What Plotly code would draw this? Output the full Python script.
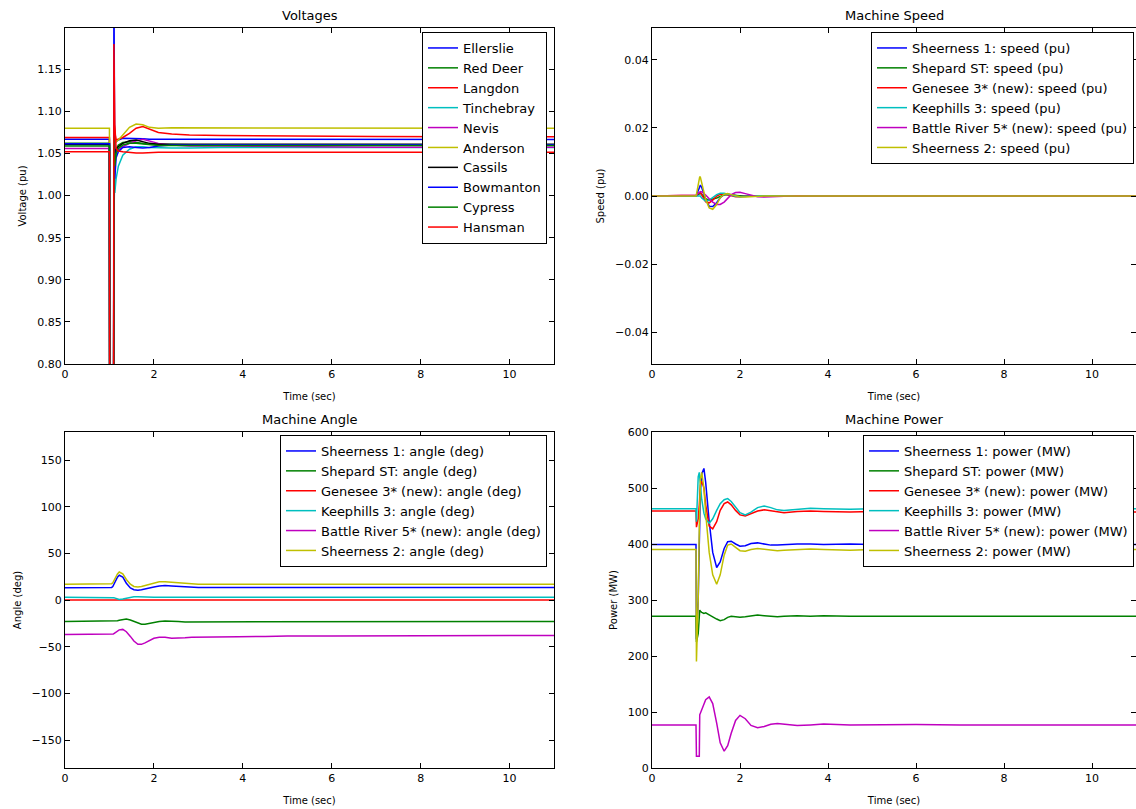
import plotly.graph_objects as go

# ---------------- data ----------------
# Voltage panel time base (sec)
t_v = [0.0, 1.0, 1.01, 1.09, 1.1, 1.12, 1.15, 1.2, 1.3, 1.45, 1.6, 1.75, 1.9, 2.1, 2.4, 2.8, 3.5, 5.0, 7.0, 9.0, 11.0]

v_ellerslie = [1.067, 1.067, 0.55, 0.55, 0.95, 1.062, 1.064, 1.066, 1.068, 1.068, 1.068, 1.0675, 1.067, 1.067, 1.0668, 1.0666, 1.0666, 1.0665, 1.0665, 1.0665, 1.0665]
v_red_deer = [1.062, 1.062, 0.5, 0.5, 1.07, 1.04, 1.055, 1.06, 1.063, 1.064, 1.063, 1.062, 1.061, 1.061, 1.0605, 1.0605, 1.0605, 1.0605, 1.0605, 1.0605, 1.0605]
v_langdon = [1.069, 1.069, 0.5, 0.5, 1.09, 1.075, 1.066, 1.067, 1.069, 1.074, 1.08, 1.082, 1.079, 1.075, 1.073, 1.072, 1.0712, 1.0705, 1.0702, 1.07, 1.07]
v_tinchebray = [1.0605, 1.0605, 0.45, 0.45, 1.05, 1.003, 1.02, 1.035, 1.048, 1.055, 1.058, 1.058, 1.057, 1.0565, 1.0565, 1.0565, 1.057, 1.057, 1.057, 1.057, 1.057]
v_nevis = [1.056, 1.056, 0.5, 0.5, 1.06, 1.05, 1.052, 1.054, 1.058, 1.062, 1.065, 1.067, 1.065, 1.062, 1.06, 1.059, 1.059, 1.058, 1.0575, 1.0575, 1.0575]
v_anderson = [1.08, 1.08, 0.45, 0.45, 1.07, 1.062, 1.064, 1.066, 1.072, 1.081, 1.085, 1.084, 1.081, 1.08, 1.0805, 1.0805, 1.0803, 1.0802, 1.08, 1.08, 1.08]
v_cassils = [1.061, 1.061, 0.55, 0.55, 1.07, 1.05, 1.055, 1.058, 1.062, 1.065, 1.066, 1.064, 1.062, 1.061, 1.061, 1.061, 1.061, 1.061, 1.061, 1.061, 1.061]
v_bowmanton = [1.0615, 1.0615, 0.5, 0.5, 1.26, 1.02, 1.045, 1.052, 1.057, 1.058, 1.057, 1.0565, 1.057, 1.059, 1.06, 1.0605, 1.0605, 1.0605, 1.0605, 1.0605, 1.0605]
v_cypress = [1.059, 1.059, 0.5, 0.5, 1.07, 1.035, 1.05, 1.056, 1.06, 1.062, 1.062, 1.061, 1.06, 1.0595, 1.0595, 1.0595, 1.0595, 1.0595, 1.0595, 1.0595, 1.0595]
v_hansman = [1.052, 1.052, 0.5, 0.5, 1.18, 1.085, 1.056, 1.053, 1.052, 1.051, 1.0505, 1.0505, 1.051, 1.0515, 1.0515, 1.0515, 1.0515, 1.0515, 1.0515, 1.0515, 1.0515]

bus_names = ["Ellerslie", "Red Deer", "Langdon", "Tinchebray", "Nevis",
             "Anderson", "Cassils", "Bowmanton", "Cypress", "Hansman"]
bus_values = [v_ellerslie, v_red_deer, v_langdon, v_tinchebray, v_nevis,
              v_anderson, v_cassils, v_bowmanton, v_cypress, v_hansman]

# Machine panels time base (sec)
t_m = [0.0, 1.0, 1.01, 1.05, 1.075, 1.085, 1.1, 1.13, 1.18, 1.22, 1.3, 1.38, 1.47, 1.55, 1.64, 1.72, 1.8, 1.9, 2.0, 2.12,
       2.25, 2.4, 2.55, 2.7, 2.85, 3.0, 3.3, 3.6, 3.9, 4.5, 5.0, 6.0, 7.0, 8.0, 9.0, 10.0, 11.0]

machine_names = ["Sheerness 1", "Shepard ST", "Genesee 3* (new)", "Keephills 3",
                 "Battle River 5* (new)", "Sheerness 2"]

speed_sheerness1 = [0, 0, 0.0003, 0.0015, 0.0025, 0.003, 0.0032, 0.0025, 0.0005, -0.001,
                    -0.003, -0.0031, -0.002, -0.0005, 0.0004, 0.0006, 0.0004, 0.0001, -0.0001, -0.0001,
                    0, 0, 0, 0, 0, 0, 0, 0, 0, 0, 0, 0, 0, 0, 0, 0, 0]
speed_shepard = [0, 0, 0.0001, 0.0004, 0.0006, 0.0007, 0.0008, 0.0005, -0.0003, -0.0008,
                 -0.0012, -0.001, -0.0006, -0.0001, 0.0004, 0.0004, 0.0003, 0.0001, 0, -0.0001,
                 0, 0, 0, 0, 0, 0, 0, 0, 0, 0, 0, 0, 0, 0, 0, 0, 0]
speed_genesee = [0, 0, 0.0002, 0.0008, 0.001, 0.0011, 0.001, 0.0003, -0.001, -0.0017,
                 -0.002, -0.0012, 0, 0.0005, 0.0006, 0.0003, 0, -0.0002, -0.0002, 0,
                 0.0001, 0, 0, 0, 0, 0, 0, 0, 0, 0, 0, 0, 0, 0, 0, 0, 0]
speed_keephills = [0, 0, 0, 0.0002, 0.0002, 0.0001, 0, -0.0006, -0.0012, -0.0015,
                   -0.0012, -0.0004, 0.0004, 0.0008, 0.0008, 0.0005, 0.0002, -0.0001, -0.0002, -0.0002,
                   0, 0.0001, 0.0001, 0, 0, 0, 0, 0, 0, 0, 0, 0, 0, 0, 0, 0, 0]
speed_battle = [0, 0, 0.0002, 0.0008, 0.0011, 0.0012, 0.0013, 0.0012, 0.0008, 0.0003,
                -0.0008, -0.0018, -0.0025, -0.0025, -0.0018, -0.0008, 0.0004, 0.001, 0.0011, 0.0007,
                0.0002, -0.0002, -0.0003, -0.0002, 0, 0.0001, 0.0001, 0, 0, 0, 0, 0, 0, 0, 0, 0, 0]
speed_sheerness2 = [0, 0, 0.0005, 0.003, 0.005, 0.0057, 0.0055, 0.004, 0.001, -0.001,
                    -0.0035, -0.0039, -0.0025, -0.0005, 0.0005, 0.0007, 0.0004, 0.0001, -0.0002, -0.0003,
                    -0.0002, 0, 0, 0, 0, 0, 0, 0, 0, 0, 0, 0, 0, 0, 0, 0, 0]

angle_sheerness1 = [13, 13, 13, 13.5, 14.5, 15.5, 17, 20, 24.5, 26.5,
                    24.5, 18, 13, 11, 10.5, 11, 12, 13, 14, 15,
                    15.5, 15, 14.5, 14, 13.5, 13.5, 13.5, 13.5, 13.5, 13.5,
                    13.5, 13.5, 13.5, 13.5, 13.5, 13.5, 13.5]
angle_shepard = [-23, -23, -23, -23, -23, -23, -23, -22.8, -22.3, -21.8,
                 -21, -20.5, -21.5, -23, -25, -26, -26, -25, -24, -23,
                 -22.5, -22.5, -23, -23.5, -23.5, -23.5, -23.3, -23.2, -23.2, -23.1,
                 -23, -23, -23, -23, -23, -23, -23]
angle_genesee = [0, 0, 0, 0, 0, 0, 0, 0, 0, 0,
                 0, 0, 0, 0, 0, 0, 0, 0, 0, 0,
                 0, 0, 0, 0, 0, 0, 0, 0, 0, 0,
                 0, 0, 0, 0, 0, 0, 0]
angle_keephills = [3, 3, 3, 3, 3, 2.8, 2.5, 2, 1, 0.5,
                   1, 2, 3, 3.5, 3.5, 3.3, 3, 3, 3, 3,
                   3, 3, 3, 3, 3, 3, 3, 3, 3, 3,
                   3, 3, 3, 3, 3, 3, 3]
angle_battle = [-37, -37, -37, -37, -36.8, -36.5, -36, -35, -33, -32,
                -31.5, -34, -39, -44, -47.5, -47.5, -46, -43.5, -41, -40,
                -40, -41, -41, -40.5, -40, -40, -40, -40, -39.5, -39,
                -38.5, -38.5, -38.5, -38, -38, -38, -38]
angle_sheerness2 = [17, 17, 17, 17.5, 18.5, 19.5, 21, 24, 28, 30,
                    28, 22, 17, 14.5, 14, 14.5, 15.5, 17, 18.5, 19.5,
                    19.5, 19, 18, 17.5, 17, 17, 17, 17, 17, 17.3,
                    17.5, 17.3, 17, 17, 17, 17, 17]

power_sheerness1 = [399, 399, 230, 300, 400, 460, 495, 525, 535, 510,
                    440, 385, 358, 368, 392, 404, 405, 400, 396, 397,
                    401, 402, 400, 398, 398, 399, 400, 400, 399, 400,
                    399, 399, 399, 399, 399, 399, 399]
power_shepard = [271, 271, 225, 240, 270, 282, 280, 278, 276, 277,
                 274, 270, 266, 263, 265, 269, 271, 270, 269, 270,
                 272, 273, 272, 271, 270, 271, 272, 271, 272, 271,
                 271, 272, 271, 271, 272, 271, 271]
power_genesee = [459, 459, 430, 445, 470, 490, 505, 512, 500, 470,
                 432, 427, 440, 460, 472, 475, 470, 460, 452, 450,
                 454, 459, 461, 459, 457, 456, 458, 459, 458, 457,
                 458, 457, 457, 457, 457, 457, 457]
power_keephills = [463, 463, 440, 520, 528, 520, 505, 480, 455, 445,
                   437, 445, 460, 472, 479, 481, 476, 465, 456, 452,
                   457, 465, 468, 465, 461, 460, 462, 464, 463, 462,
                   463, 463, 463, 463, 463, 463, 463]
power_battle = [77, 77, 21, 21, 21, 95, 98, 105, 115, 122,
                127, 115, 80, 45, 30, 40, 62, 85, 94, 88,
                76, 72, 74, 78, 79.5, 78, 76, 77, 78.5, 77,
                77.5, 77.5, 77, 77, 77, 77, 77]
power_sheerness2 = [390, 390, 190, 300, 430, 480, 515, 528, 500, 455,
                    385, 345, 328, 345, 380, 398, 400, 394, 388, 387,
                    390, 392, 391, 389, 388, 389, 390, 391, 390, 389,
                    390, 390, 390, 390, 390, 390, 390]

speeds = [speed_sheerness1, speed_shepard, speed_genesee, speed_keephills, speed_battle, speed_sheerness2]
angles = [angle_sheerness1, angle_shepard, angle_genesee, angle_keephills, angle_battle, angle_sheerness2]
powers = [power_sheerness1, power_shepard, power_genesee, power_keephills, power_battle, power_sheerness2]

for s in bus_values:
    assert len(s) == len(t_v)
for grp in (speeds, angles, powers):
    for s in grp:
        assert len(s) == len(t_m)

# ---------------- styling ----------------
bus_colors = ["#0000ff", "#008000", "#ff0000", "#00bfbf", "#bf00bf",
              "#bfbf00", "#000000", "#0000ff", "#008000", "#ff0000"]
mach_colors = ["#0000ff", "#008000", "#ff0000", "#00bfbf", "#bf00bf", "#bfbf00"]

W, H = 1136, 809
FONT = "DejaVu Sans"
LW = 1.5

fig = go.Figure()

for name, vals, col in zip(bus_names, bus_values, bus_colors):
    fig.add_trace(go.Scatter(x=t_v, y=vals, mode="lines", name=name,
                             line=dict(color=col, width=LW),
                             xaxis="x", yaxis="y", legend="legend"))

for name, vals, col in zip(machine_names, speeds, mach_colors):
    fig.add_trace(go.Scatter(x=t_m, y=vals, mode="lines", name=name + ": speed (pu)",
                             line=dict(color=col, width=LW),
                             xaxis="x2", yaxis="y2", legend="legend2"))

for name, vals, col in zip(machine_names, angles, mach_colors):
    fig.add_trace(go.Scatter(x=t_m, y=vals, mode="lines", name=name + ": angle (deg)",
                             line=dict(color=col, width=LW),
                             xaxis="x3", yaxis="y3", legend="legend3"))

for name, vals, col in zip(machine_names, powers, mach_colors):
    fig.add_trace(go.Scatter(x=t_m, y=vals, mode="lines", name=name + ": power (MW)",
                             line=dict(color=col, width=LW),
                             xaxis="x4", yaxis="y4", legend="legend4"))

dom_xl = [65 / W, 554 / W]
dom_xr = [652 / W, 1.0]
dom_yt = [1 - 364 / H, 1 - 28 / H]
dom_yb = [1 - 768 / H, 1 - 432 / H]

axis_common = dict(showline=True, linecolor="black", linewidth=1, mirror="ticks",
                   ticks="inside", ticklen=5, tickcolor="black", tickwidth=1,
                   showgrid=False, zeroline=False,
                   tickfont=dict(family=FONT, size=11, color="black"))

def xax(domain, anchor):
    return dict(axis_common, domain=domain, anchor=anchor, range=[0, 11],
                tickvals=[0, 2, 4, 6, 8, 10],
                title=dict(text="Time (sec)", font=dict(family=FONT, size=10, color="black"), standoff=12))

def yax(domain, anchor, rng, tickvals, fmt, title):
    return dict(axis_common, domain=domain, anchor=anchor, range=rng,
                tickvals=tickvals, tickformat=fmt,
                title=dict(text=title, font=dict(family=FONT, size=10, color="black"), standoff=8))

legend_common = dict(bgcolor="white", bordercolor="black", borderwidth=1,
                     font=dict(family=FONT, size=13, color="black"),
                     xanchor="right", yanchor="top", tracegroupgap=0)

title_font = dict(family=FONT, size=13, color="black")

fig.update_layout(
    width=W, height=H,
    margin=dict(l=0, r=0, t=0, b=0, autoexpand=False),
    paper_bgcolor="white", plot_bgcolor="white",
    font=dict(family=FONT, color="black"),
    xaxis=xax(dom_xl, "y"),
    yaxis=yax(dom_yt, "x", [0.8, 1.199], [0.80, 0.85, 0.90, 0.95, 1.00, 1.05, 1.10, 1.15], ".2f", "Voltage (pu)"),
    xaxis2=xax(dom_xr, "y2"),
    yaxis2=yax(dom_yt, "x2", [-0.0494, 0.0494], [-0.04, -0.02, 0.0, 0.02, 0.04], ".2f", "Speed (pu)"),
    xaxis3=xax(dom_xl, "y3"),
    yaxis3=yax(dom_yb, "x3", [-180, 180], [-150, -100, -50, 0, 50, 100, 150], "d", "Angle (deg)"),
    xaxis4=xax(dom_xr, "y4"),
    yaxis4=yax(dom_yb, "x4", [0, 600], [0, 100, 200, 300, 400, 500, 600], "d", "Power (MW)"),
    legend=dict(legend_common, x=547 / W, y=1 - 32 / H),
    legend2=dict(legend_common, x=1134 / W, y=1 - 32 / H),
    legend3=dict(legend_common, x=547 / W, y=1 - 435 / H),
    legend4=dict(legend_common, x=1134 / W, y=1 - 435 / H),
    annotations=[
        dict(text="Voltages", x=(65 + 554) / 2 / W, y=1 - 15 / H, xref="paper", yref="paper",
             showarrow=False, xanchor="center", yanchor="middle", font=title_font),
        dict(text="Machine Speed", x=(652 + 1136) / 2 / W, y=1 - 15 / H, xref="paper", yref="paper",
             showarrow=False, xanchor="center", yanchor="middle", font=title_font),
        dict(text="Machine Angle", x=(65 + 554) / 2 / W, y=1 - 419 / H, xref="paper", yref="paper",
             showarrow=False, xanchor="center", yanchor="middle", font=title_font),
        dict(text="Machine Power", x=(652 + 1136) / 2 / W, y=1 - 419 / H, xref="paper", yref="paper",
             showarrow=False, xanchor="center", yanchor="middle", font=title_font),
    ],
)

fig.write_html("out.html",
               config={"displayModeBar": False},
               post_script="document.body.style.margin='0';document.body.style.overflow='hidden';")
